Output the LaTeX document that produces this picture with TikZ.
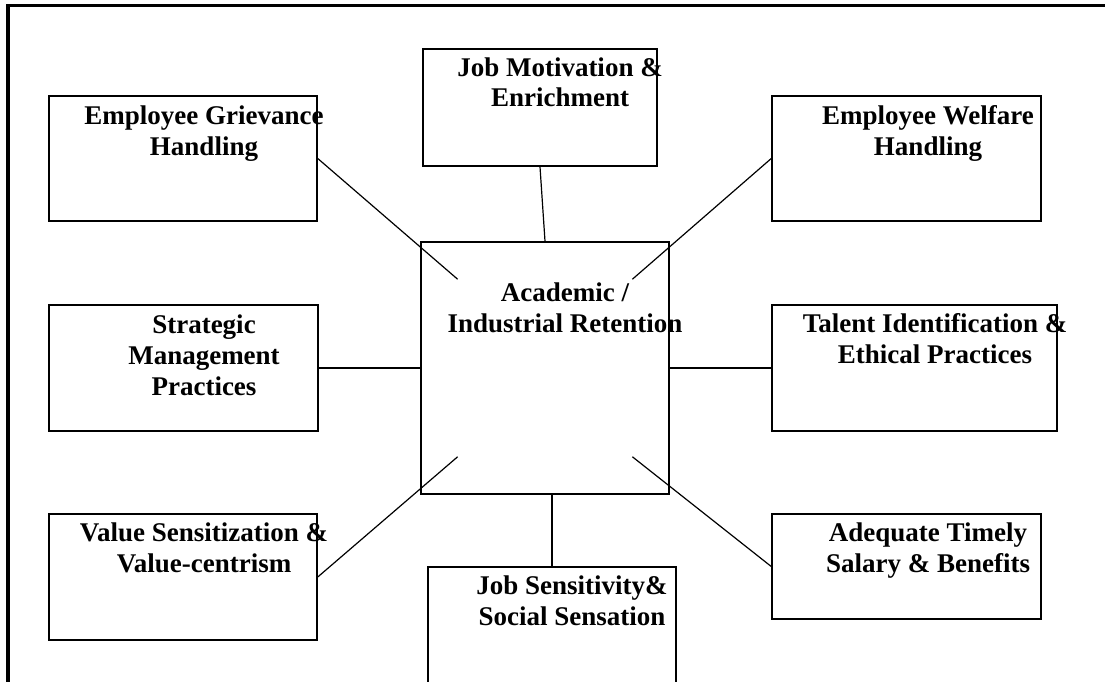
\documentclass[tikz,border=0pt]{standalone}
\usepackage{fontspec}
\setmainfont{Liberation Serif}
\usetikzlibrary{calc}
\tikzstyle{factorbox} = [
    draw=black,
    line width=1.5pt,
    rectangle,
    inner sep=0pt
    ]
% base sits on the last line of the label
\tikzstyle{factortext} = [
    font=\bfseries\fontsize{27}{31}\selectfont,
    align=center,
    anchor=base,
    inner sep=0pt
    ]
\tikzstyle{link} = [draw=black, line width=1.2pt]

\begin{document}
\begin{tikzpicture}[x=1pt,y=-1pt]
\useasboundingbox (0,0) rectangle (1105,682);
\clip (0,0) rectangle (1105,682);
% frame
\draw[line width=3.2pt] (8,682) |- (1105,5.5);

% boxes
\node[factorbox, minimum width=248pt, minimum height=252pt] (core) at (545,368) {};
\node[factorbox, minimum width=268pt, minimum height=125pt] (grievance) at (183,158.5) {};
\node[factorbox, minimum width=234pt, minimum height=117pt] (motivation) at (540,107.5) {};
\node[factorbox, minimum width=269pt, minimum height=125pt] (welfare) at (906.5,158.5) {};
\node[factorbox, minimum width=269pt, minimum height=126pt] (strategic) at (183.5,368) {};
\node[factorbox, minimum width=285pt, minimum height=126pt] (talent) at (914.5,368) {};
\node[factorbox, minimum width=268pt, minimum height=126pt] (value) at (183,577) {};
\node[factorbox, minimum width=248pt, minimum height=150pt] (sensitivity) at (552,642) {};
\node[factorbox, minimum width=269pt, minimum height=105pt] (salary) at (906.5,566.5) {};

% labels
\node[factortext] (coretext) at (565,332) {Academic /\\Industrial Retention};
\node[factortext] (grievancetext) at (204,155) {Employee Grievance\\Handling};
\node[factortext] (motivationtext) at (560,107) {Job Motivation \&\\Enrichment};
\node[factortext] (welfaretext) at (928,155) {Employee Welfare\\Handling};
\node[factortext] (strategictext) at (204,395) {Strategic\\Management\\Practices};
\node[factortext] (talenttext) at (935,363) {Talent Identification \&\\Ethical Practices};
\node[factortext] (valuetext) at (204,572) {Value Sensitization \&\\Value-centrism};
\node[factortext] (sensitivitytext) at (572,625) {Job Sensitivity\&\\Social Sensation};
\node[factortext] (salarytext) at (928,572) {Adequate Timely\\Salary \& Benefits};

% links
\draw[link] (grievance.east) -- ($(core.center)!0.7!(core.north west)$);
\draw[link] (motivation.south) -- (core.north);
\draw[link] (welfare.west) -- ($(core.center)!0.7!(core.north east)$);
\draw[link] (strategic.east) -- (core.west);
\draw[link] (talent.west) -- (core.east);
\draw[link] (value.east) -- ($(core.center)!0.7!(core.south west)$);
\draw[link] (core.south -| sensitivity.north) -- (sensitivity.north);
\draw[link] (salary.west) -- ($(core.center)!0.7!(core.south east)$);
\end{tikzpicture}
\end{document}
